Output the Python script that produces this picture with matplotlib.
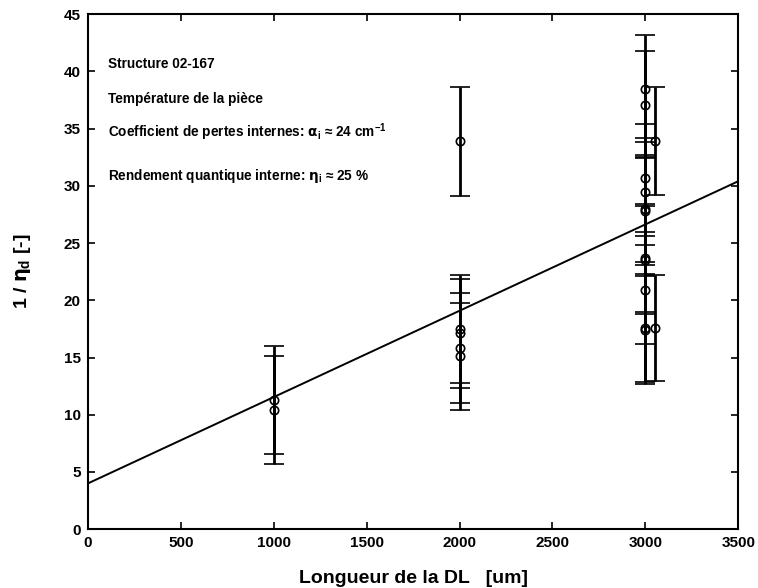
import matplotlib
matplotlib.use("Agg")
import matplotlib.pyplot as plt

# --- Données ---
longueur = [1000, 1000,
            2000, 2000, 2000, 2000, 2000,
            3000, 3000, 3000, 3000, 3000, 3000, 3000, 3000, 3000, 3000, 3000,
            3050, 3050]
inv_eta = [11.3, 10.4,
           33.9, 17.5, 17.1, 15.8, 15.1,
           38.5, 37.1, 30.7, 29.5, 28.0, 27.8, 23.7, 23.5, 20.9, 17.6, 17.4,
           33.9, 17.6]
erreur = [4.7, 4.7,
          4.75, 4.7, 4.75, 4.8, 4.7,
          4.7, 4.7, 4.7, 4.7, 4.7, 4.7, 4.7, 4.7, 4.7, 4.7, 4.7,
          4.7, 4.65]

# droite d'ajustement (extrémités)
fit_x = [0, 3500]
fit_y = [4.0, 30.4]

textes = [
    "Structure 02-167",
    "Température de la pièce",
    r"Coefficient de pertes internes: $\alpha_\mathregular{i}$ ≈ 24 cm$^\mathregular{-1}$",
    r"Rendement quantique interne: $\eta_\mathregular{i}$ ≈ 25 %",
]
textes_y = [40.6, 37.6, 34.7, 30.9]

plt.rcParams["font.family"] = ["Liberation Sans", "DejaVu Sans"]
plt.rcParams["font.weight"] = "bold"
plt.rcParams["mathtext.fontset"] = "custom"
plt.rcParams["mathtext.rm"] = "Liberation Sans:bold"
plt.rcParams["mathtext.it"] = "DejaVu Sans:bold"

fig = plt.figure(figsize=(7.58, 5.88), dpi=100)
ax = fig.add_axes([0.116, 0.100, 0.858, 0.876])

ax.plot(fit_x, fit_y, color="black", lw=1.4)
ax.errorbar(longueur, inv_eta, yerr=erreur, fmt="o", mfc="none", mec="black",
            ms=6, mew=1.2, ecolor="black", elinewidth=2, capsize=7, capthick=2)

for t, yy in zip(textes, textes_y):
    ax.text(108, yy, t, fontsize=9.8, fontweight="bold", va="center", ha="left")

ax.set_xlim(0, 3500)
ax.set_ylim(0, 45)
ax.set_xticks(range(0, 3501, 500))
ax.set_yticks(range(0, 46, 5))
ax.tick_params(direction="in", top=True, right=True, length=5, width=1.2,
               labelsize=11, pad=5)
for lab in ax.get_xticklabels() + ax.get_yticklabels():
    lab.set_fontweight("bold")
for s in ax.spines.values():
    s.set_linewidth(1.5)

ax.set_xlabel("Longueur de la DL   [um]", fontsize=14, fontweight="bold", labelpad=14)
ax.set_ylabel(r"1 / $\eta_\mathregular{d}$ [-]", fontsize=14, fontweight="bold", labelpad=22)

fig.savefig("out.png", dpi=100)
